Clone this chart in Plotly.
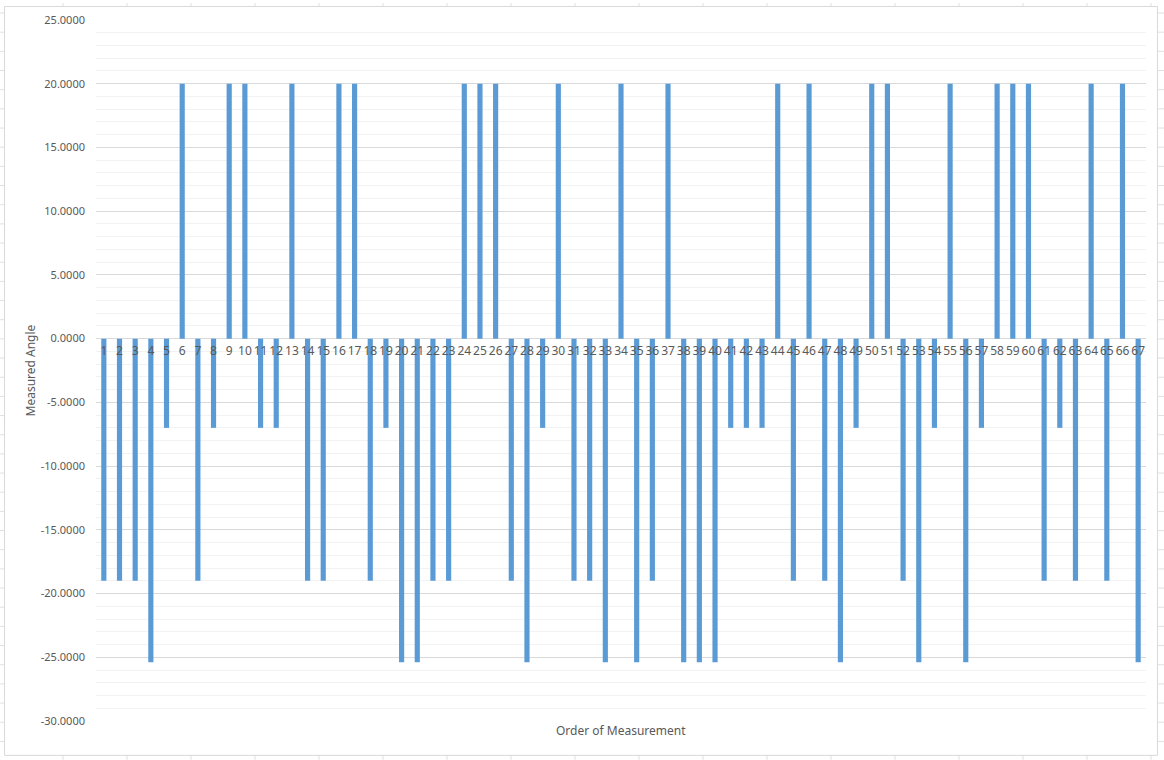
import plotly.graph_objects as go

# ---- data ----
categories = [str(i) for i in range(1, 68)]
measured_angle = [
    -19, -19, -19, -25.4, -7, 20, -19, -7, 20, 20,
    -7, -7, 20, -19, -19, 20, 20, -19, -7, -25.4,
    -25.4, -19, -19, 20, 20, 20, -19, -25.4, -7, 20,
    -19, -19, -25.4, 20, -25.4, -19, 20, -25.4, -25.4, -25.4,
    -7, -7, -7, 20, -19, 20, -19, -25.4, -7, 20,
    20, -19, -25.4, -7, 20, -25.4, -7, 20, 20, 20,
    -19, -7, -19, 20, -19, 20, -25.4,
]
y_tick_values = [25, 20, 15, 10, 5, 0, -5, -10, -15, -20, -25, -30]
y_tick_labels = [f"{v:.4f}" for v in y_tick_values]
y_title = "Measured Angle"
x_title = "Order of Measurement"

W, H = 1164, 760
L, R, T, B = 96, 1146, 17, 721   # plot area in pixels


def px(xp):
    return (xp - L) / (R - L)


def py(yp):
    return (B - yp) / (B - T)


FONT = "Noto Sans"
GRAY = "#595959"

fig = go.Figure(
    go.Bar(
        x=categories,
        y=measured_angle,
        marker=dict(color="#5b9bd5", line=dict(width=0)),
        width=0.33,
        hoverinfo="x+y",
    )
)

ymin, ymax = -30, 25
zero_pos = (0 - ymin) / (ymax - ymin)

shapes = []
# spreadsheet cell lines outside the chart area
for k in range(0, 19):
    xv = 63 + 64 * k
    shapes.append(dict(type="line", xref="paper", yref="paper",
                       x0=px(xv), x1=px(xv), y0=py(0), y1=py(3),
                       line=dict(color="#e1e1e1", width=1), layer="below"))
    shapes.append(dict(type="line", xref="paper", yref="paper",
                       x0=px(xv), x1=px(xv), y0=py(755), y1=py(760),
                       line=dict(color="#e1e1e1", width=1), layer="below"))
for k in range(0, 40):
    yv = 10 + 19.25 * k
    shapes.append(dict(type="line", xref="paper", yref="paper",
                       x0=px(0), x1=px(4), y0=py(yv), y1=py(yv),
                       line=dict(color="#e1e1e1", width=1), layer="below"))
    shapes.append(dict(type="line", xref="paper", yref="paper",
                       x0=px(1157), x1=px(1164), y0=py(yv), y1=py(yv),
                       line=dict(color="#e1e1e1", width=1), layer="below"))
# chart area border
shapes.append(dict(type="rect", xref="paper", yref="paper",
                   x0=px(4.5), x1=px(1157.5), y0=py(755.5), y1=py(3.5),
                   line=dict(color="#d9d9d9", width=1), fillcolor="rgba(0,0,0,0)",
                   layer="below"))

fig.update_layout(
    width=W, height=H,
    margin=dict(l=L, r=W - R, t=T, b=H - B),
    paper_bgcolor="white",
    plot_bgcolor="white",
    showlegend=False,
    bargap=0.67,
    font=dict(family=FONT, color=GRAY, size=11),
    shapes=shapes,
    xaxis=dict(
        type="category",
        range=[-0.5, 66.5],
        anchor="free",
        position=zero_pos,
        showgrid=False,
        showline=False,
        ticks="",
        tickangle=0,
        tickfont=dict(family=FONT, size=12, color=GRAY),
        ticklabelstandoff=3,
        layer="above traces",
        fixedrange=True,
    ),
    yaxis=dict(
        range=[ymin, ymax],
        tickvals=y_tick_values,
        ticktext=y_tick_labels,
        tickfont=dict(family=FONT, size=11, color=GRAY),
        showgrid=True,
        gridcolor="#d9d9d9",
        gridwidth=1,
        zeroline=True,
        zerolinecolor="#d9d9d9",
        zerolinewidth=1,
        showline=False,
        ticks="",
        ticklabelstandoff=10,
        minor=dict(dtick=1, showgrid=True, gridcolor="#f2f2f2", gridwidth=1),
        layer="below traces",
    ),
    annotations=[
        dict(text=y_title, xref="paper", yref="paper",
             x=px(30), y=py(369), textangle=-90, showarrow=False,
             font=dict(family=FONT, size=12, color=GRAY),
             xanchor="center", yanchor="middle"),
        dict(text=x_title, xref="paper", yref="paper",
             x=px(621), y=py(731), showarrow=False,
             font=dict(family=FONT, size=12, color=GRAY),
             xanchor="center", yanchor="middle"),
    ],
)

fig.write_html(
    "out.html",
    config={"displayModeBar": False},
    post_script="document.body.style.margin='0';document.body.style.overflow='hidden';",
)
